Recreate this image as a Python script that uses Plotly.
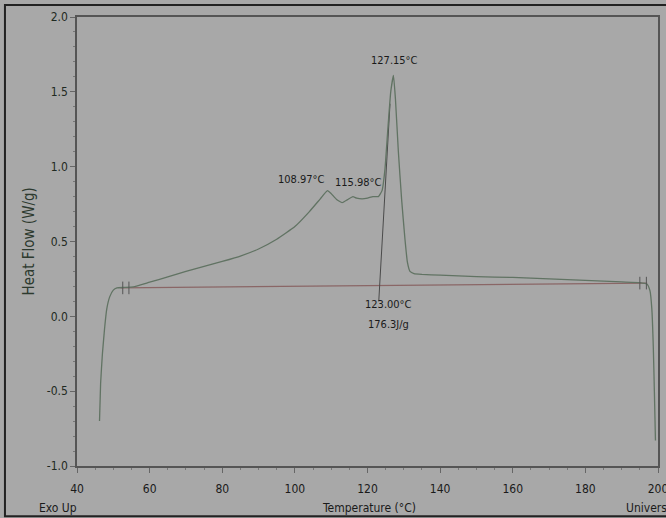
import numpy as np
import plotly.graph_objects as go

# ---- data ----
temperature = [46.2, 46.5, 47.0, 47.6, 48.2, 49.0, 50.0, 51.0, 53.0, 55.5, 60, 65, 70, 75, 80, 85, 90, 95,
               100, 104, 107, 108.97, 110, 111.5, 113, 114.5, 115.98, 117, 118.5, 120, 121.5, 123.0,
               124.0, 124.8, 125.6, 126.4, 127.15, 127.7, 128.5, 129.4, 130.3, 131.0, 131.7, 132.8,
               135, 140, 150, 160, 170, 180, 190, 195, 197.0, 197.8, 198.3, 198.7, 199.0, 199.3]
heat_flow = [-0.70, -0.45, -0.25, -0.08, 0.05, 0.13, 0.175, 0.19, 0.193, 0.197, 0.228, 0.263, 0.30, 0.333,
             0.367, 0.403, 0.45, 0.515, 0.60, 0.70, 0.785, 0.84, 0.82, 0.78, 0.76, 0.78, 0.80, 0.79, 0.785,
             0.79, 0.80, 0.80, 0.84, 0.98, 1.25, 1.50, 1.61, 1.45, 1.10, 0.78, 0.52, 0.36, 0.30, 0.285,
             0.28, 0.275, 0.265, 0.26, 0.25, 0.24, 0.23, 0.225, 0.215, 0.17, 0.05, -0.20, -0.50, -0.83]

baseline_t = [52.0, 197.0]
baseline_hf = [0.19, 0.222]
baseline_marks_t = [52.6, 54.3, 195.0, 196.8]
baseline_marks_hf = [0.19, 0.19, 0.222, 0.222]

tangent_t = [123.1, 126.2]
tangent_hf = [0.10, 1.42]

peak_temps = [108.97, 115.98, 127.15]
peak_labels = ["108.97°C", "115.98°C", "127.15°C"]
onset_temp = 123.00
onset_labels = ["123.00°C", "176.3J/g"]

x_ticks = [40, 60, 80, 100, 120, 140, 160, 180, 200]
y_ticks = [-1.0, -0.5, 0.0, 0.5, 1.0, 1.5, 2.0]

FONT = "Liberation Sans Narrow, DejaVu Sans Condensed, Arial Narrow, sans-serif"
BG = "#a8a8a8"
CURVE = "#617363"
BASE = "#8a6666"

fig = go.Figure()
fig.add_trace(go.Scatter(x=baseline_t, y=baseline_hf, mode="lines",
                         line=dict(color=BASE, width=1.3), hoverinfo="skip"))
fig.add_trace(go.Scatter(x=tangent_t, y=tangent_hf, mode="lines",
                         line=dict(color="#4a4a4a", width=1), hoverinfo="skip"))
fig.add_trace(go.Scatter(x=temperature, y=heat_flow, mode="lines",
                         line=dict(color=CURVE, width=1.3, shape="spline", smoothing=0.4)))
fig.add_trace(go.Scatter(x=baseline_marks_t, y=baseline_marks_hf, mode="markers",
                         marker=dict(symbol="line-ns-open", size=9, color="#555555",
                                     line=dict(color="#555555", width=1)),
                         hoverinfo="skip"))

annotations = []
peak_vals = np.interp(peak_temps, temperature, heat_flow)
shifts = [(0, "right", 3), (6, "center", 6), (1, "center", 6)]
for t, v, lab, (xs, xa, ys) in zip(peak_temps, peak_vals, peak_labels, shifts):
    annotations.append(dict(x=t, y=v, xref="x", yref="y", text=lab, showarrow=False,
                            xanchor=xa, yanchor="bottom", xshift=xs, yshift=ys,
                            font=dict(family=FONT, size=11, color="#1a1a1a")))
for i, lab in enumerate(onset_labels):
    annotations.append(dict(x=onset_temp, y=0.0, xref="x", yref="y", text=lab, showarrow=False,
                            xanchor="center", yanchor="middle", xshift=10, yshift=12 - 20 * i,
                            font=dict(family=FONT, size=11, color="#1a1a1a")))

annotations += [
    dict(x=-0.0843, y=0.5, xref="paper", yref="paper", text="Heat Flow (W/g)", textangle=-90,
         showarrow=False, xanchor="center", yanchor="middle",
         font=dict(family=FONT, size=15, color="#2d3a2f")),
    dict(x=0.5026, y=-0.0935, xref="paper", yref="paper", text="Temperature (°C)",
         showarrow=False, xanchor="center", yanchor="middle",
         font=dict(family=FONT, size=12, color="#1a1a1a")),
    dict(x=-0.0688, y=-0.0935, xref="paper", yref="paper", text="Exo Up",
         showarrow=False, xanchor="left", yanchor="middle",
         font=dict(family=FONT, size=12, color="#1a1a1a")),
    dict(x=0.9415, y=-0.0935, xref="paper", yref="paper", text="Universal",
         showarrow=False, xanchor="left", yanchor="middle",
         font=dict(family=FONT, size=12, color="#1a1a1a")),
]

fig.update_layout(
    width=666, height=518,
    margin=dict(l=77, r=8, t=17, b=52, autoexpand=False),
    paper_bgcolor=BG, plot_bgcolor=BG,
    showlegend=False,
    annotations=annotations,
    shapes=[dict(type="rect", xref="paper", yref="paper", x0=-0.124, x1=1.03, y0=-0.112, y1=1.027,
                 line=dict(color="#222222", width=2), layer="below")],
    font=dict(family=FONT, size=11, color="#1a1a1a"),
)
fig.update_xaxes(range=[40, 200], tickvals=x_ticks, ticktext=[str(v) for v in x_ticks],
                 showgrid=False, zeroline=False, showline=True, linecolor="#555555", linewidth=1.5,
                 mirror=True, ticks="outside", ticklen=5, tickcolor="#666666", automargin=False,
                 minor=dict(dtick=5, ticks="outside", ticklen=2, tickcolor="#777777"),
                 tickfont=dict(family=FONT, size=12, color="#1a1a1a"), ticklabelstandoff=6,
                 ticklabeloverflow="allow")
fig.update_yaxes(range=[-1, 2], tickvals=y_ticks, ticktext=[f"{v:.1f}" for v in y_ticks],
                 showgrid=False, zeroline=False, showline=True, linecolor="#555555", linewidth=1.5,
                 mirror=True, ticks="outside", ticklen=5, tickcolor="#666666", automargin=False,
                 minor=dict(dtick=0.1, ticks="outside", ticklen=2, tickcolor="#777777"),
                 tickfont=dict(family=FONT, size=12, color="#1f2a22"))

fig.write_html("out.html", config={"displayModeBar": False},
               post_script="document.body.style.margin='0';document.body.style.overflow='hidden';")
